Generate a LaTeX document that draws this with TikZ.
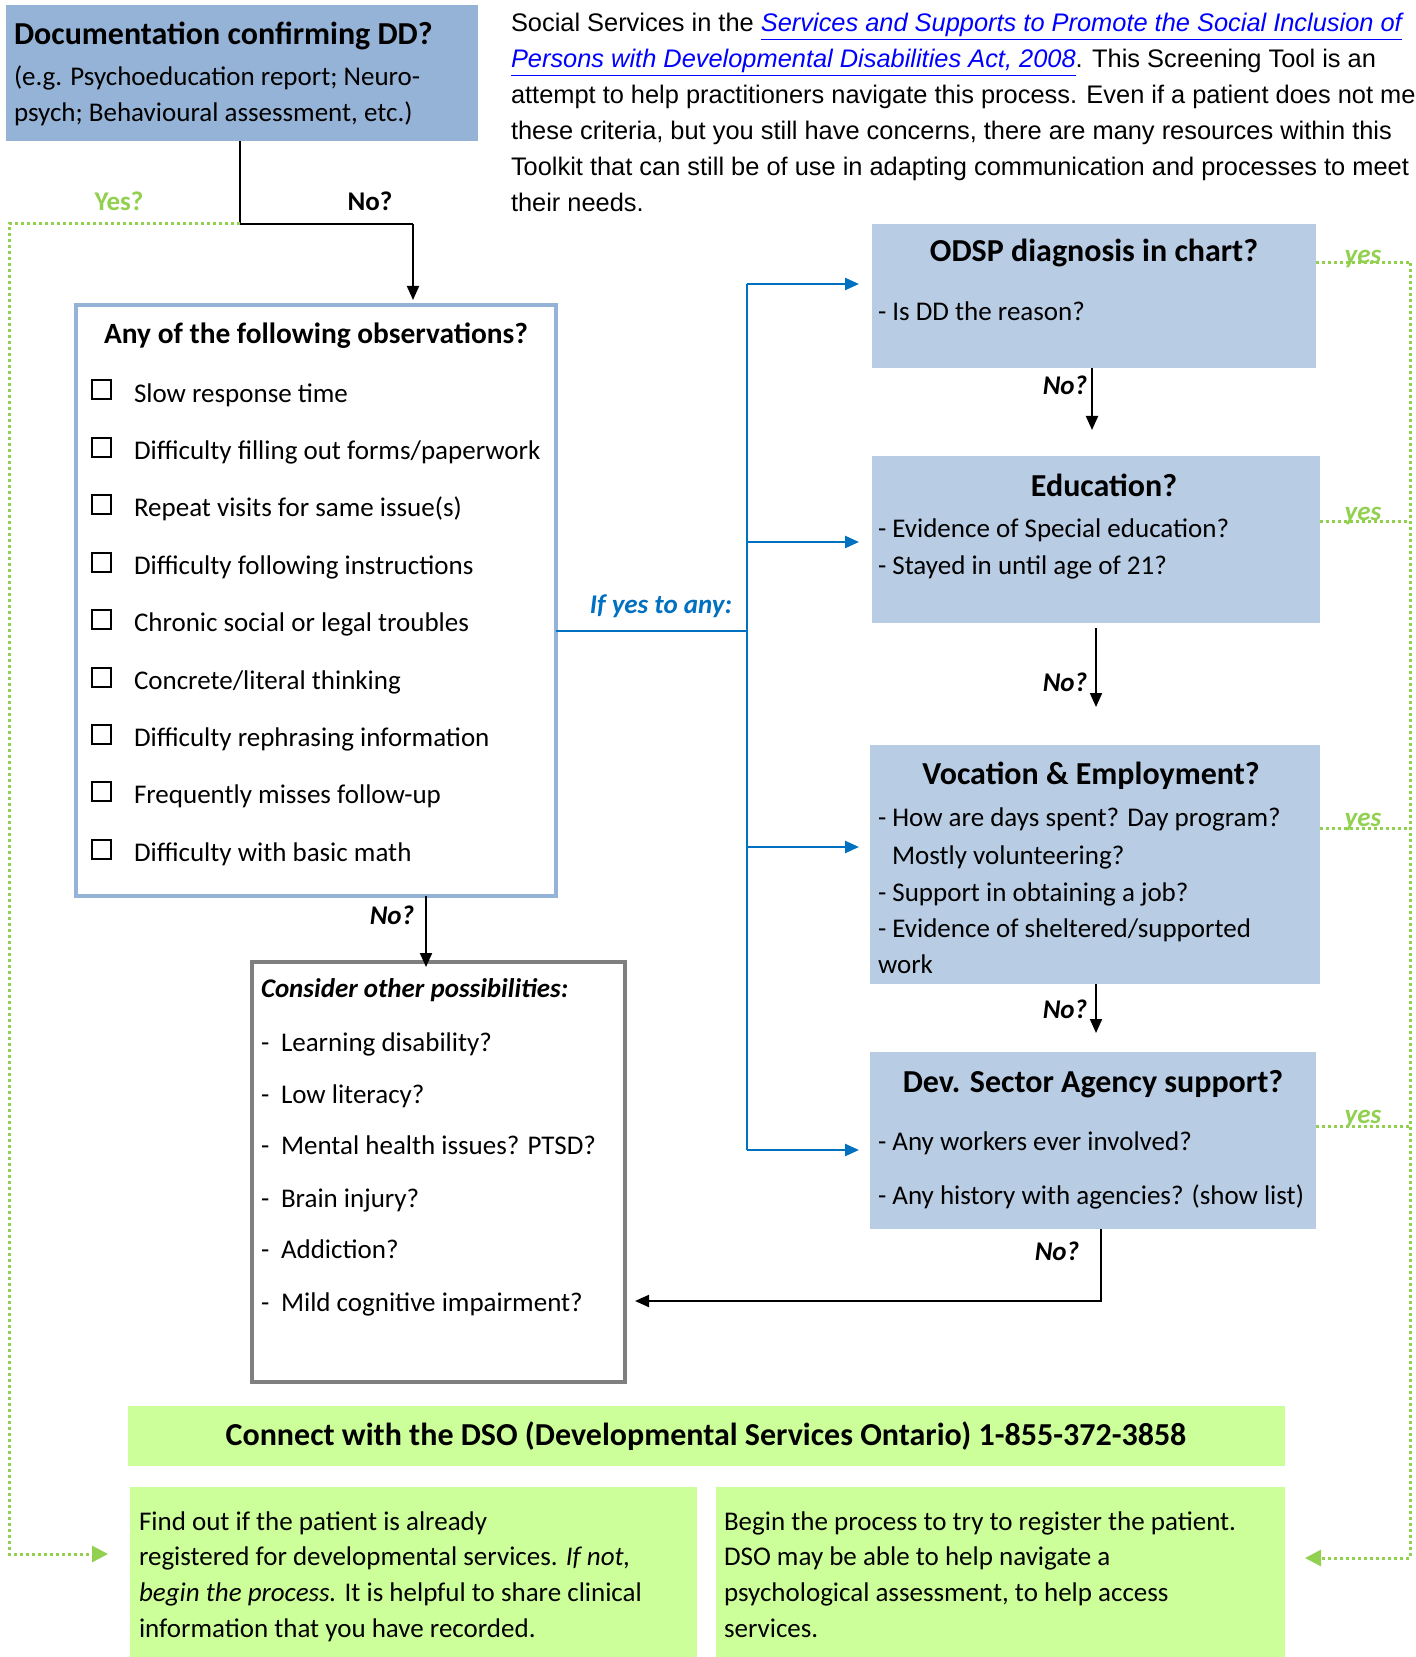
\documentclass[tikz,border=0pt]{standalone}
\usepackage{fontspec}
\setmainfont{Carlito}
\newfontfamily\parafont{Liberation Sans}
\usetikzlibrary{arrows.meta}
\definecolor{docblue}{HTML}{95B3D7}
\definecolor{boxblue}{HTML}{B8CCE4}
\definecolor{lineblue}{HTML}{0070C0}
\definecolor{yesgreen}{HTML}{92D050}
\definecolor{dsogreen}{HTML}{CCFF99}
\definecolor{consgray}{HTML}{7F7F7F}
\definecolor{linkblue}{HTML}{0000FF}
\tikzset{
 every node/.style={inner sep=0pt, outer sep=0pt},
 tshift/.style={yshift=-2.7pt},
 docbox/.style={fill=docblue, anchor=north west},
 qbox/.style={fill=boxblue, anchor=north west},
 gbox/.style={fill=dsogreen, anchor=north west},
 obsbox/.style={draw=docblue, line width=2pt, fill=white, anchor=north west},
 consbox/.style={draw=consgray, line width=2pt, fill=white, anchor=north west},
 body/.style={tshift, anchor=mid west, font=\fontsize{13.5}{16}\selectfont},
 ttl/.style={tshift, anchor=mid, font=\bfseries\fontsize{16}{18}\selectfont},
 nolbl/.style={tshift, anchor=mid, font=\bfseries\itshape\fontsize{13.5}{16}\selectfont},
 yeslbl/.style={tshift, anchor=mid, text=yesgreen, font=\bfseries\itshape\fontsize{13.5}{16}\selectfont},
 para/.style={tshift, anchor=mid west, font=\parafont\fontsize{12.7}{16}\selectfont},
 chk/.style={draw, line width=1pt, minimum size=9.5pt, anchor=center},
 blkline/.style={line width=1pt},
 blk/.style={line width=1pt, -{Triangle[length=7pt,width=6pt]}},
 blu/.style={draw=lineblue, line width=1.2pt},
 bluarr/.style={blu, -{Triangle[length=7pt,width=6pt]}},
 grn/.style={draw=yesgreen, line width=1.5pt, dash pattern=on 1.5pt off 1.5pt},
 grnarr/.style={grn, -{Triangle[length=8pt,width=8pt]}}
}
\begin{document}
\begin{tikzpicture}[x=0.5pt,y=-0.5pt]
\useasboundingbox[fill=white] (0,0) rectangle (1416,1657);

% ---------- boxes ----------
\node[docbox, minimum width=236pt, minimum height=68pt] (doc) at (6,5) {};
\node[obsbox, minimum width=240pt, minimum height=295.5pt] (obs) at (76,305) {};
\node[consbox, minimum width=186.5pt, minimum height=210pt] (cons) at (252,962) {};
\node[qbox, minimum width=222pt, minimum height=72pt] (odsp) at (872,224) {};
\node[qbox, minimum width=224pt, minimum height=83.5pt] (edu) at (872,456) {};
\node[qbox, minimum width=225pt, minimum height=119.5pt] (voc) at (870,745) {};
\node[qbox, minimum width=223pt, minimum height=88.5pt] (dev) at (870,1052) {};
\node[gbox, minimum width=578.5pt, minimum height=30pt] (dso) at (128,1406) {};
\node[gbox, minimum width=283.5pt, minimum height=85pt] (gl) at (130,1487) {};
\node[gbox, minimum width=284.5pt, minimum height=85pt] (gr) at (716,1487) {};

% ---------- top-left box text ----------
\node[tshift, anchor=mid west, font=\bfseries\fontsize{16}{18}\selectfont] (docT) at (14,34) {Documentation confirming DD?};
\node[body] (docL1) at (14,75) {(e.g. Psychoeducation report; Neuro-};
\node[body] (docL2) at (14,111) {psych; Behavioural assessment, etc.)};

% ---------- paragraph ----------
\node[para] (p1) at (511,21) {Social Services in the {\color{linkblue}\itshape\underline{Services and Supports to Promote the Social Inclusion of}}};
\node[para] (p2) at (511,57) {{\color{linkblue}\itshape\underline{Persons with Developmental Disabilities Act, 2008}}. This Screening Tool is an};
\node[para] (p3) at (511,93) {attempt to help practitioners navigate this process. Even if a patient does not meet};
\node[para] (p4) at (511,129) {these criteria, but you still have concerns, there are many resources within this};
\node[para] (p5) at (511,165) {Toolkit that can still be of use in adapting communication and processes to meet};
\node[para] (p6) at (511,201) {their needs.};

% ---------- top connectors ----------
\coordinate (bendA) at (240,224);
\coordinate (bendB) at (413,224);
\coordinate (ylt) at (9,224);
\coordinate (ylb) at (9,1554);
\node[tshift, anchor=mid, text=yesgreen, font=\bfseries\fontsize{13.5}{16}\selectfont] (yesL) at (119,200) {Yes?};
\node[tshift, anchor=mid, font=\bfseries\fontsize{13.5}{16}\selectfont] (noL) at (370,200) {No?};
\draw[blkline] (doc.south -| bendA) -- (bendA) -- (bendB);
\draw[blk] (bendB) -- ([yshift=2.5pt]obs.north -| bendB);
\draw[grnarr, shorten >=11pt] (bendA) -- (ylt) -- (ylb) -- (gl.west |- ylb);

% ---------- observations ----------
\node[tshift, anchor=mid, font=\bfseries\fontsize{14.7}{18}\selectfont] (obsT) at (316,333) {Any of the following observations?};
\foreach \t [count=\i] in {Slow response time,Difficulty filling out forms/paperwork,Repeat visits for same issue(s),Difficulty following instructions,Chronic social or legal troubles,Concrete/literal thinking,Difficulty rephrasing information,Frequently misses follow-up,Difficulty with basic math}{
  \pgfmathsetmacro{\yy}{392+(\i-1)*57.4}
  \node[chk] (c\i) at (101,\yy-2) {};
  \node[body] (o\i) at (134,\yy) {\t};
}

% ---------- obs -> consider ----------
\draw[blk] (obs.south -| 426,0) -- ([yshift=-2.5pt]cons.north -| 426,0);
\node[nolbl] (noC) at (392,914) {No?};

% ---------- consider ----------
\node[tshift, anchor=mid west, font=\bfseries\itshape\fontsize{13.5}{16}\selectfont] (consT) at (261,987) {Consider other possibilities:};
\foreach \t/\yy [count=\i] in {Learning disability?/1041,Low literacy?/1093,Mental health issues? PTSD?/1144,Brain injury?/1197,Addiction?/1248,Mild cognitive impairment?/1301}{
  \node[body] (d\i) at (261,\yy) {-};
  \node[body] (k\i) at (281,\yy) {\t};
}

% ---------- blue connectors ----------
\coordinate (bm) at (747,631);
\coordinate (bt) at (747,284);
\coordinate (be) at (747,542);
\coordinate (bv) at (747,847);
\coordinate (bb) at (747,1150);
\node[tshift, anchor=mid, text=lineblue, font=\bfseries\itshape\fontsize{13.5}{16}\selectfont] (ifyes) at (661,603) {If yes to any:};
\draw[blu] (obs.east |- bm) -- (bm);
\draw[blu] (bt) -- (bb);
\draw[bluarr, shorten >=6.5pt] (bt) -- (odsp.west |- bt);
\draw[bluarr, shorten >=6.5pt] (be) -- (edu.west |- be);
\draw[bluarr, shorten >=5.5pt] (bv) -- (voc.west |- bv);
\draw[bluarr, shorten >=5.5pt] (bb) -- (dev.west |- bb);

% ---------- right boxes text ----------
\node[ttl] (odspT) at (1094,251) {ODSP diagnosis in chart?};
\node[body] (odsp1) at (878,310) {- Is DD the reason?};
\node[ttl] (eduT) at (1104,486) {Education?};
\node[body] (edu1) at (878,527) {- Evidence of Special education?};
\node[body] (edu2) at (878,564) {- Stayed in until age of 21?};
\node[ttl] (vocT) at (1091,774) {Vocation \& Employment?};
\node[body] (voc1) at (878,816) {- How are days spent? Day program?};
\node[body] (voc2) at (892,854) {Mostly volunteering?};
\node[body] (voc3) at (878,891) {- Support in obtaining a job?};
\node[body] (voc4) at (878,927) {- Evidence of sheltered/supported};
\node[body] (voc5) at (878,963) {work};
\node[ttl] (devT) at (1093,1082) {Dev. Sector Agency support?};
\node[body] (dev1) at (878,1140) {- Any workers ever involved?};
\node[body] (dev2) at (878,1194) {- Any history with agencies? (show list)};

% ---------- No? arrows on the right ----------
\draw[blk, shorten >=13pt] (odsp.south -| 1092,0) -- (edu.north -| 1092,0);
\node[nolbl] (no1) at (1065,384) {No?};
\draw[blk, shorten <=2.5pt, shorten >=19pt] (edu.south -| 1096,0) -- (voc.north -| 1096,0);
\node[nolbl] (no2) at (1065,681) {No?};
\draw[blk, shorten >=9.5pt] (voc.south -| 1096,0) -- (dev.north -| 1096,0);
\node[nolbl] (no3) at (1065,1008) {No?};
\coordinate (dturn) at (1101,1301);
\draw[blk, shorten >=5pt] (dev.south -| dturn) -- (dturn) -- (cons.east |- dturn);
\node[nolbl] (no4) at (1057,1250) {No?};

% ---------- green yes connectors ----------
\coordinate (rt) at (1410,263);
\coordinate (rb) at (1410,1558);
\draw[grn] (odsp.east |- rt) -- (rt);
\draw[grnarr, shorten >=10pt] (rt) -- (rb) -- (gr.east |- rb);
\coordinate (r2) at (1410,522);
\coordinate (r3) at (1410,828);
\coordinate (r4) at (1410,1126);
\draw[grn] (edu.east |- r2) -- (r2);
\draw[grn] (voc.east |- r3) -- (r3);
\draw[grn] (dev.east |- r4) -- (r4);
\node[yeslbl] (y1) at (1363,253) {yes};
\node[yeslbl] (y2) at (1363,510) {yes};
\node[yeslbl] (y3) at (1363,816) {yes};
\node[yeslbl] (y4) at (1363,1113) {yes};

% ---------- DSO ----------
\node[tshift, anchor=mid, font=\bfseries\fontsize{16}{18}\selectfont] (dsoT) at (706,1435) {Connect with the DSO (Developmental Services Ontario) 1-855-372-3858};
\node[body] (gl1) at (139,1520) {Find out if the patient is already};
\node[body] (gl2) at (139,1555) {registered for developmental services. \textit{If not,}};
\node[body] (gl3) at (139,1591) {\textit{begin the process.} It is helpful to share clinical};
\node[body] (gl4) at (139,1627) {information that you have recorded.};
\node[body] (gr1) at (724,1520) {Begin the process to try to register the patient.};
\node[body] (gr2) at (724,1555) {DSO may be able to help navigate a};
\node[body] (gr3) at (724,1591) {psychological assessment, to help access};
\node[body] (gr4) at (724,1627) {services.};
\end{tikzpicture}
\end{document}
